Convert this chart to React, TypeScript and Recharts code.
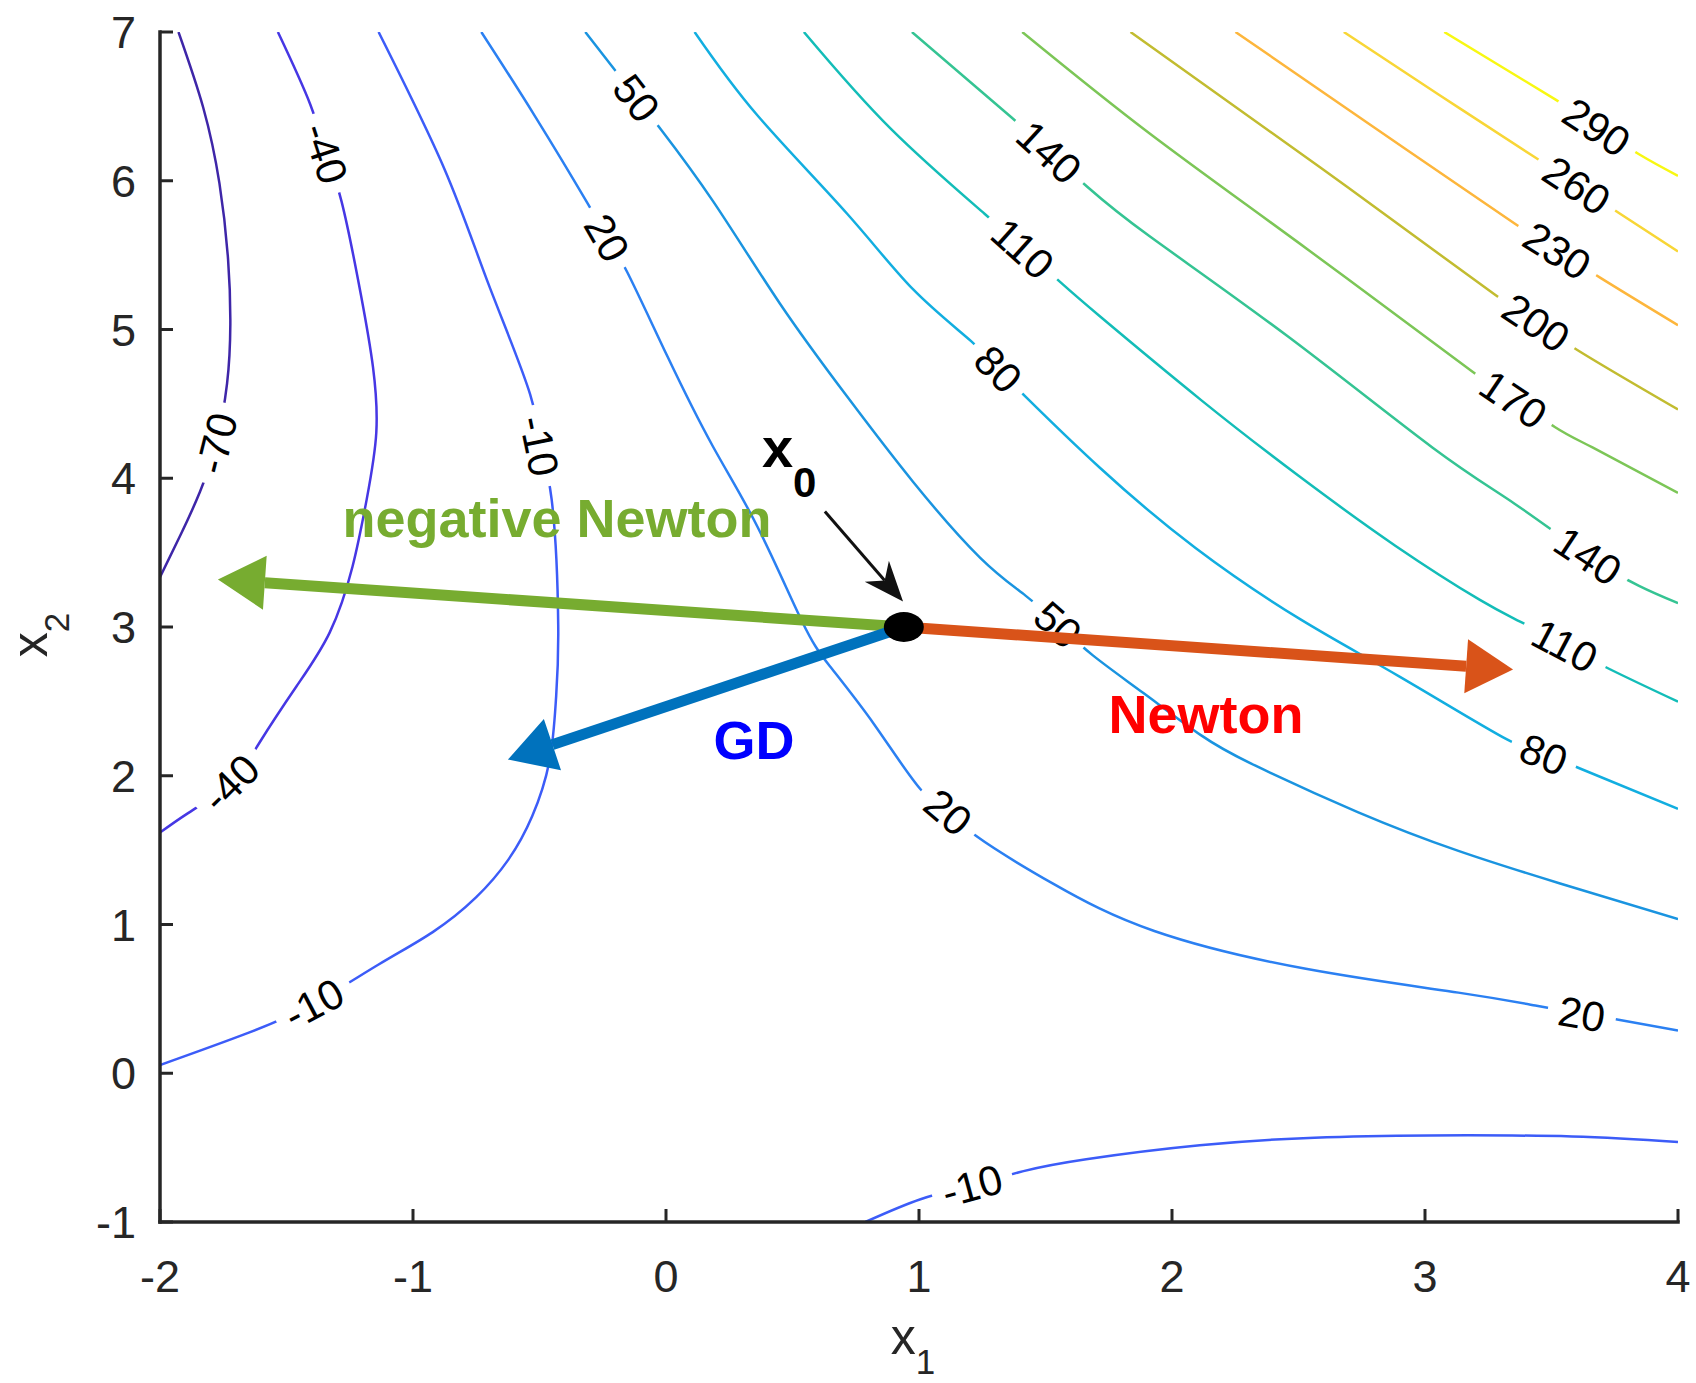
import React from "react";
import { ComposedChart, Line, XAxis, YAxis, ReferenceDot, ReferenceLine } from "recharts";

type Pt = { x: number; y: number };

const X_TICKS = [-2, -1, 0, 1, 2, 3, 4];
const Y_TICKS = [-1, 0, 1, 2, 3, 4, 5, 6, 7];

// contour lines as (x1, x2) points
const C_M70: Pt[] = [
  { x: -1.927, y: 7.0 }, { x: -1.829, y: 6.491 }, { x: -1.765, y: 5.982 }, { x: -1.731, y: 5.473 },
  { x: -1.722, y: 5.036 }, { x: -1.735, y: 4.636 }, { x: -1.778, y: 4.236 }, { x: -1.842, y: 3.909 },
  { x: -1.919, y: 3.618 }, { x: -2.0, y: 3.335 },
];
const C_M40: Pt[] = [
  { x: -1.534, y: 7.0 }, { x: -1.406, y: 6.513 }, { x: -1.344, y: 6.185 }, { x: -1.282, y: 5.858 },
  { x: -1.205, y: 5.225 }, { x: -1.158, y: 4.745 }, { x: -1.145, y: 4.309 }, { x: -1.183, y: 3.858 },
  { x: -1.239, y: 3.407 }, { x: -1.329, y: 2.964 }, { x: -1.461, y: 2.6 }, { x: -1.607, y: 2.222 },
  { x: -1.722, y: 1.953 }, { x: -1.889, y: 1.749 }, { x: -2.0, y: 1.618 },
];
const C_M10: Pt[] = [
  { x: -1.136, y: 7.0 }, { x: -0.875, y: 6.076 }, { x: -0.7, y: 5.298 }, { x: -0.537, y: 4.564 },
  { x: -0.499, y: 4.218 }, { x: -0.452, y: 3.858 }, { x: -0.426, y: 3.015 }, { x: -0.435, y: 2.513 },
  { x: -0.46, y: 2.105 }, { x: -0.529, y: 1.727 }, { x: -0.623, y: 1.436 }, { x: -0.751, y: 1.182 },
  { x: -0.922, y: 0.949 }, { x: -1.136, y: 0.731 }, { x: -1.393, y: 0.469 }, { x: -1.649, y: 0.273 },
  { x: -2.0, y: 0.055 },
];
const C_M10_LOW: Pt[] = [
  { x: 0.788, y: -1.0 }, { x: 1.006, y: -0.847 }, { x: 1.21, y: -0.753 }, { x: 1.413, y: -0.658 },
  { x: 1.661, y: -0.578 }, { x: 2.11, y: -0.484 }, { x: 2.563, y: -0.433 }, { x: 3.017, y: -0.418 },
  { x: 3.581, y: -0.425 }, { x: 4.0, y: -0.462 },
];
const C_20: Pt[] = [
  { x: -0.73, y: 7.0 }, { x: -0.52, y: 6.44 }, { x: -0.311, y: 5.851 }, { x: -0.232, y: 5.618 },
  { x: -0.153, y: 5.385 }, { x: 0.006, y: 4.818 }, { x: 0.185, y: 4.215 }, { x: 0.361, y: 3.676 },
  { x: 0.536, y: 3.044 }, { x: 0.647, y: 2.738 }, { x: 0.823, y: 2.345 }, { x: 1.006, y: 1.909 },
  { x: 1.116, y: 1.756 }, { x: 1.225, y: 1.596 }, { x: 1.528, y: 1.276 }, { x: 1.93, y: 0.956 },
  { x: 2.529, y: 0.702 }, { x: 3.132, y: 0.542 }, { x: 3.436, y: 0.455 }, { x: 3.62, y: 0.4 },
  { x: 3.765, y: 0.36 }, { x: 4.0, y: 0.287 },
];
const C_50: Pt[] = [
  { x: -0.319, y: 7.0 }, { x: -0.116, y: 6.556 }, { x: -0.02, y: 6.345 }, { x: 0.185, y: 5.865 },
  { x: 0.45, y: 5.175 }, { x: 0.716, y: 4.549 }, { x: 0.977, y: 3.975 }, { x: 1.242, y: 3.465 },
  { x: 1.421, y: 3.211 }, { x: 1.55, y: 3.018 }, { x: 1.686, y: 2.811 }, { x: 1.887, y: 2.556 },
  { x: 2.114, y: 2.273 }, { x: 2.328, y: 2.069 }, { x: 2.734, y: 1.756 }, { x: 3.132, y: 1.495 },
  { x: 3.534, y: 1.276 }, { x: 4.0, y: 1.036 },
];
const C_80: Pt[] = [
  { x: 0.113, y: 7.0 }, { x: 0.361, y: 6.44 }, { x: 0.716, y: 5.778 }, { x: 0.977, y: 5.269 },
  { x: 1.207, y: 4.92 }, { x: 1.314, y: 4.735 }, { x: 1.421, y: 4.549 }, { x: 1.716, y: 4.069 },
  { x: 2.093, y: 3.531 }, { x: 2.508, y: 3.051 }, { x: 2.901, y: 2.665 }, { x: 3.324, y: 2.244 },
  { x: 3.47, y: 2.145 }, { x: 3.615, y: 2.047 }, { x: 4.0, y: 1.778 },
];
const C_110: Pt[] = [
  { x: 0.545, y: 7.0 }, { x: 0.891, y: 6.345 }, { x: 1.259, y: 5.778 }, { x: 1.411, y: 5.545 },
  { x: 1.562, y: 5.313 }, { x: 1.716, y: 5.087 }, { x: 2.114, y: 4.527 }, { x: 2.499, y: 4.018 },
  { x: 2.884, y: 3.545 }, { x: 3.217, y: 3.182 }, { x: 3.376, y: 3.036 }, { x: 3.553, y: 2.876 },
  { x: 3.731, y: 2.716 }, { x: 4.0, y: 2.498 },
];
const C_140: Pt[] = [
  { x: 0.972, y: 7.0 }, { x: 1.366, y: 6.425 }, { x: 1.515, y: 6.193 }, { x: 1.665, y: 5.96 },
  { x: 1.913, y: 5.625 }, { x: 2.456, y: 4.956 }, { x: 3.029, y: 4.207 }, { x: 3.354, y: 3.829 },
  { x: 3.645, y: 3.48 }, { x: 3.846, y: 3.276 }, { x: 4.0, y: 3.16 },
];
const C_170: Pt[] = [
  { x: 1.408, y: 7.0 }, { x: 1.913, y: 6.316 }, { x: 2.542, y: 5.531 }, { x: 3.188, y: 4.716 },
  { x: 3.35, y: 4.531 }, { x: 3.513, y: 4.345 }, { x: 3.662, y: 4.207 }, { x: 4.0, y: 3.902 },
];
const C_200: Pt[] = [
  { x: 1.836, y: 7.0 }, { x: 2.585, y: 6.091 }, { x: 3.277, y: 5.233 }, { x: 3.44, y: 5.047 },
  { x: 3.602, y: 4.862 }, { x: 4.0, y: 4.462 },
];
const C_230: Pt[] = [
  { x: 2.251, y: 7.0 }, { x: 2.798, y: 6.36 }, { x: 3.354, y: 5.713 }, { x: 3.523, y: 5.531 },
  { x: 3.692, y: 5.349 }, { x: 4.0, y: 5.029 },
];
const C_260: Pt[] = [
  { x: 2.679, y: 7.0 }, { x: 3.055, y: 6.578 }, { x: 3.436, y: 6.156 }, { x: 3.6, y: 5.971 },
  { x: 3.765, y: 5.785 }, { x: 4.0, y: 5.524 },
];
const C_290: Pt[] = [
  { x: 3.076, y: 7.0 }, { x: 3.513, y: 6.549 }, { x: 3.679, y: 6.362 }, { x: 3.846, y: 6.178 },
  { x: 4.0, y: 6.033 },
];

// inline contour labels (where they sit on the lines)
const CONTOUR_LABELS: { level: number; x: number; y: number }[] = [
  { level: -70, x: -1.778, y: 4.236 },
  { level: -40, x: -1.344, y: 6.185 },
  { level: -40, x: -1.722, y: 1.953 },
  { level: -10, x: -0.499, y: 4.218 },
  { level: -10, x: -1.393, y: 0.469 },
  { level: -10, x: 1.21, y: -0.753 },
  { level: 20, x: -0.232, y: 5.618 },
  { level: 20, x: 1.116, y: 1.756 },
  { level: 20, x: 3.62, y: 0.4 },
  { level: 50, x: -0.116, y: 6.556 },
  { level: 50, x: 1.55, y: 3.018 },
  { level: 80, x: 1.314, y: 4.735 },
  { level: 80, x: 3.47, y: 2.145 },
  { level: 110, x: 1.411, y: 5.545 },
  { level: 110, x: 3.553, y: 2.876 },
  { level: 140, x: 1.515, y: 6.193 },
  { level: 140, x: 3.645, y: 3.48 },
  { level: 170, x: 3.35, y: 4.531 },
  { level: 200, x: 3.44, y: 5.047 },
  { level: 230, x: 3.523, y: 5.531 },
  { level: 260, x: 3.6, y: 5.971 },
  { level: 290, x: 3.679, y: 6.362 },
];

// start point and the three step directions
const X0: Pt = { x: 0.94, y: 3.0 };
const NEWTON_TIP: Pt = { x: 3.348, y: 2.714 };
const NEG_NEWTON_TIP: Pt = { x: -1.771, y: 3.319 };
const GD_TIP: Pt = { x: -0.625, y: 2.109 };
const POINTER_FROM: Pt = { x: 0.628, y: 3.776 };
const POINTER_TO: Pt = { x: 0.937, y: 3.171 };

const LEVEL_COLORS: Record<number, string> = {
  [-70]: "#3e26a8",
  [-40]: "#4637e4",
  [-10]: "#3c5cf8",
  20: "#2b80f2",
  50: "#1a94e0",
  80: "#12aee0",
  110: "#13bdb8",
  140: "#35c493",
  170: "#7cc657",
  200: "#c2bc30",
  230: "#fdb63c",
  260: "#f8d636",
  290: "#f8f812",
};

const CONTOURS = [
  { level: -70, pts: C_M70 },
  { level: -40, pts: C_M40 },
  { level: -10, pts: C_M10 },
  { level: -10, pts: C_M10_LOW },
  { level: 20, pts: C_20 },
  { level: 50, pts: C_50 },
  { level: 80, pts: C_80 },
  { level: 110, pts: C_110 },
  { level: 140, pts: C_140 },
  { level: 170, pts: C_170 },
  { level: 200, pts: C_200 },
  { level: 230, pts: C_230 },
  { level: 260, pts: C_260 },
  { level: 290, pts: C_290 },
];

const W = 1696;
const H = 1383;
const MARGIN = { top: 32, right: 18, bottom: 0, left: 0 };
const Y_AXIS_W = 160;
const X_AXIS_H = 161;
const PLOT_W = W - MARGIN.left - MARGIN.right - Y_AXIS_W;
const PLOT_H = H - MARGIN.top - MARGIN.bottom - X_AXIS_H;
const KX = PLOT_W / 6;
const KY = PLOT_H / 8;

const AXIS = "#262626";
const GREEN = "#77ac30";
const ORANGE = "#d95319";
const BLUE = "#0072bd";
const FONT = "'Liberation Sans', Arial, sans-serif";

function labelAngle(level: number, x: number, y: number) {
  let pts: Pt[] = [];
  let bi = 0;
  let bd = Infinity;
  CONTOURS.filter((c) => c.level === level).forEach((c) =>
    c.pts.forEach((p, i) => {
      const d = (p.x - x) ** 2 + (p.y - y) ** 2;
      if (d < bd) {
        bd = d;
        bi = i;
        pts = c.pts;
      }
    })
  );
  const a = pts[Math.max(0, bi - 1)];
  const b = pts[Math.min(pts.length - 1, bi + 1)];
  let deg = (Math.atan2(-(b.y - a.y) * KY, (b.x - a.x) * KX) * 180) / Math.PI;
  if (deg > 90) deg -= 180;
  if (deg < -90) deg += 180;
  return deg;
}

function textW(s: string, size: number) {
  return s.split("").reduce((w, ch) => w + (ch === "-" ? 0.333 : 0.556), 0) * size;
}

function ContourLabel({ cx, cy, text, angle }: any) {
  const w = textW(text, 42) + 22;
  return (
    <g transform={`translate(${cx},${cy}) rotate(${angle})`}>
      <rect x={-w / 2} y={-17} width={w} height={34} fill="#fff" />
      <text x={0} y={0} dy="0.36em" textAnchor="middle" fontSize={42} fill="#000">
        {text}
      </text>
    </g>
  );
}

function Arrow({ x1, y1, x2, y2, color, width, headLen, headW, notch = 0 }: any) {
  const dx = x2 - x1;
  const dy = y2 - y1;
  const len = Math.hypot(dx, dy) || 1;
  const ux = dx / len;
  const uy = dy / len;
  const nx = -uy;
  const ny = ux;
  const bx = x2 - ux * headLen;
  const by = y2 - uy * headLen;
  const mx = x2 - ux * (headLen - notch);
  const my = y2 - uy * (headLen - notch);
  return (
    <g>
      <line x1={x1} y1={y1} x2={mx} y2={my} stroke={color} strokeWidth={width} />
      <polygon
        points={`${x2},${y2} ${bx + nx * headW},${by + ny * headW} ${mx},${my} ${bx - nx * headW},${by - ny * headW}`}
        fill={color}
      />
    </g>
  );
}

const BottomTick = (p: any) => (
  <g>
    <line x1={p.x} y1={p.y} x2={p.x} y2={p.y - 13} stroke={AXIS} strokeWidth={3} />
    <text x={p.x} y={p.y + 70} textAnchor="middle" fontSize={45} fill={AXIS}>
      {p.payload.value}
    </text>
  </g>
);
const LeftTick = (p: any) => (
  <g>
    <line x1={p.x} y1={p.y} x2={p.x + 13} y2={p.y} stroke={AXIS} strokeWidth={3} />
    <text x={p.x - 24} y={p.y} dy="0.36em" textAnchor="end" fontSize={45} fill={AXIS}>
      {p.payload.value}
    </text>
  </g>
);
const TopTick = (p: any) => (
  <line x1={p.x} y1={p.y} x2={p.x} y2={p.y + 13} stroke={AXIS} strokeWidth={3} />
);
const RightTick = (p: any) => (
  <line x1={p.x} y1={p.y} x2={p.x - 13} y2={p.y} stroke={AXIS} strokeWidth={3} />
);

const XLabel = (p: any) => {
  const vb = p.viewBox;
  return (
    <text x={vb.x + vb.width / 2 - 6} y={vb.y + 132} textAnchor="middle" fontSize={50} fill={AXIS}>
      x<tspan dy={20} fontSize={35}>1</tspan>
    </text>
  );
};
const YLabel = (p: any) => {
  const vb = p.viewBox;
  return (
    <text
      transform={`translate(${vb.x + 47},${vb.y + vb.height / 2 + 8}) rotate(-90)`}
      textAnchor="middle"
      fontSize={50}
      fill={AXIS}
    >
      x<tspan dy={22} fontSize={35}>2</tspan>
    </text>
  );
};

const axisLine = { stroke: AXIS, strokeWidth: 3.5, strokeLinecap: "square" as const };

export default function App() {
  return (
    <div style={{ position: "absolute", left: 0, top: 0, width: W, height: H, background: "#fff" }}>
      <ComposedChart width={W} height={H} margin={MARGIN} style={{ fontFamily: FONT }}>
        <XAxis
          dataKey="x"
          type="number"
          domain={[-2, 4]}
          ticks={X_TICKS}
          interval={0}
          allowDataOverflow
          height={X_AXIS_H}
          axisLine={axisLine}
          tickLine={false}
          tickSize={0}
          tickMargin={0}
          tick={BottomTick}
          label={XLabel}
        />
        <XAxis
          xAxisId="top"
          orientation="top"
          dataKey="x"
          type="number"
          domain={[-2, 4]}
          ticks={X_TICKS}
          interval={0}
          allowDataOverflow
          height={0}
          axisLine={axisLine}
          tickLine={false}
          tickSize={0}
          tickMargin={0}
          tick={TopTick}
        />
        <YAxis
          type="number"
          domain={[-1, 7]}
          ticks={Y_TICKS}
          interval={0}
          allowDataOverflow
          width={Y_AXIS_W}
          axisLine={axisLine}
          tickLine={false}
          tickSize={0}
          tickMargin={0}
          tick={LeftTick}
          label={YLabel}
        />
        <YAxis
          yAxisId="right"
          orientation="right"
          type="number"
          domain={[-1, 7]}
          ticks={Y_TICKS}
          interval={0}
          allowDataOverflow
          width={0}
          axisLine={axisLine}
          tickLine={false}
          tickSize={0}
          tickMargin={0}
          tick={RightTick}
        />

        {CONTOURS.map((c, i) => (
          <Line
            key={`c${i}`}
            data={c.pts}
            dataKey="y"
            type="natural"
            stroke={LEVEL_COLORS[c.level]}
            strokeWidth={2.5}
            dot={false}
            activeDot={false}
            isAnimationActive={false}
          />
        ))}

        {CONTOUR_LABELS.map((l, i) => {
          const angle = labelAngle(l.level, l.x, l.y);
          return (
            <ReferenceDot
              key={`l${i}`}
              x={l.x}
              y={l.y}
              r={0}
              zIndex={700}
              shape={(p: any) => <ContourLabel cx={p.cx} cy={p.cy} text={String(l.level)} angle={angle} />}
            />
          );
        })}

        <ReferenceLine
          segment={[X0, NEG_NEWTON_TIP]}
          zIndex={800}
          shape={(p: any) => <Arrow {...p} color={GREEN} width={11} headLen={47} headW={27} />}
        />
        <ReferenceLine
          segment={[X0, NEWTON_TIP]}
          zIndex={800}
          shape={(p: any) => <Arrow {...p} color={ORANGE} width={11} headLen={47} headW={27} />}
        />
        <ReferenceLine
          segment={[X0, GD_TIP]}
          zIndex={800}
          shape={(p: any) => <Arrow {...p} color={BLUE} width={11} headLen={47} headW={27} />}
        />
        <ReferenceLine
          segment={[POINTER_FROM, POINTER_TO]}
          zIndex={800}
          shape={(p: any) => <Arrow {...p} color="#111" width={3} headLen={40} headW={16} notch={12} />}
        />
        <ReferenceDot
          x={X0.x}
          y={X0.y}
          r={0}
          zIndex={900}
          shape={(p: any) => <ellipse cx={p.cx} cy={p.cy} rx={20} ry={15} fill="#000" />}
        />

        <ReferenceDot
          x={0.379}
          y={4.078}
          r={0}
          zIndex={950}
          shape={(p: any) => (
            <text x={p.cx} y={p.cy} fontSize={56} fontWeight="bold" fill="#000">
              x<tspan dy={30} fontSize={42}>0</tspan>
            </text>
          )}
        />
        <ReferenceDot
          x={-0.431}
          y={3.608}
          r={0}
          zIndex={950}
          shape={(p: any) => (
            <text x={p.cx} y={p.cy} textAnchor="middle" fontSize={54} fontWeight="bold" fill={GREEN}>
              negative Newton
            </text>
          )}
        />
        <ReferenceDot
          x={2.134}
          y={2.29}
          r={0}
          zIndex={950}
          shape={(p: any) => (
            <text x={p.cx} y={p.cy} textAnchor="middle" fontSize={54} fontWeight="bold" fill="#ff0000">
              Newton
            </text>
          )}
        />
        <ReferenceDot
          x={0.348}
          y={2.115}
          r={0}
          zIndex={950}
          shape={(p: any) => (
            <text x={p.cx} y={p.cy} textAnchor="middle" fontSize={54} fontWeight="bold" fill="#0000ff">
              GD
            </text>
          )}
        />
      </ComposedChart>
    </div>
  );
}
